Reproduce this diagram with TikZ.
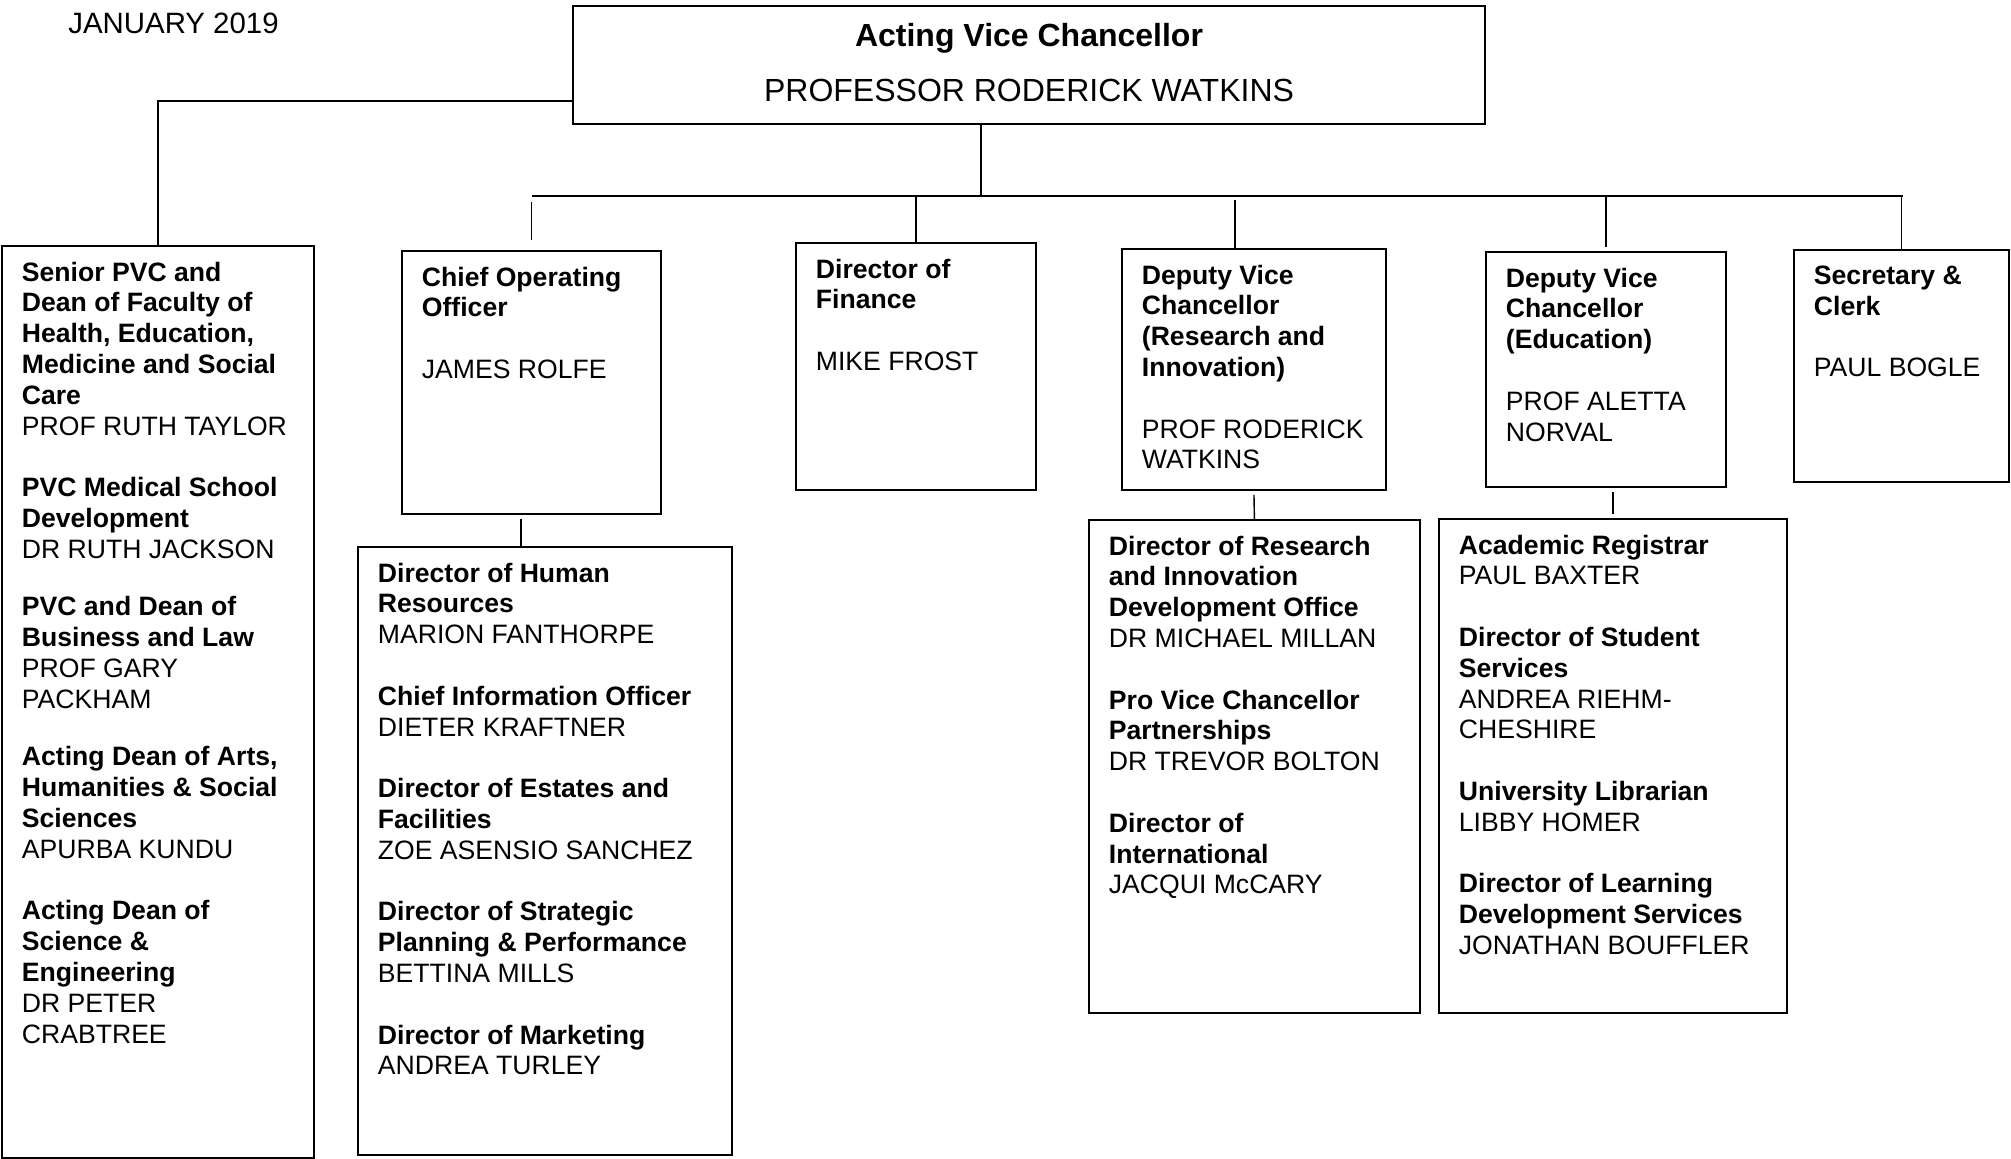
\documentclass[tikz,border=0pt]{standalone}
\usepackage{fontspec}
\setmainfont{Liberation Sans}
\newcommand\orgtext[3]{\parbox[c][\dimexpr#2pt/2-16pt\relax][t]{\dimexpr#1pt/2\relax}{\raggedright\leftskip=10pt #3}}
\newcommand\gap{\\[\baselineskip]}
\newcommand\smallgap{\\[13.4pt]}
\tikzset{
  orgbox/.style={draw, line width=0.9pt, anchor=north west, inner xsep=0pt, inner ysep=8pt,
    font=\fontsize{13.3}{15.4}\selectfont},
  headbox/.style={draw, line width=0.9pt, minimum width=456pt, minimum height=59pt, inner sep=0pt,
    align=center, text depth=2.8pt, font=\fontsize{16}{27.5}\selectfont},
  link/.style={line width=0.7pt}
}
\begin{document}
\begin{tikzpicture}[x=0.5pt, y=-0.5pt]
  \useasboundingbox (0,0) rectangle (2011,1158);
  \node[anchor=west, inner sep=0pt, font=\fontsize{14.7}{17}\selectfont] (date) at (68,23) {JANUARY 2019};
  \node[headbox] (avc) at (1029,65) {\textbf{Acting Vice Chancellor}\\PROFESSOR RODERICK WATKINS};

  \node[orgbox] (senior) at (1,245) {\orgtext{312}{912}{%
    \textbf{Senior PVC and\\Dean of Faculty of\\Health, Education,\\Medicine and Social\\Care}\\PROF RUTH TAYLOR\gap
    \textbf{PVC Medical School\\Development}\\DR RUTH JACKSON\smallgap
    \textbf{PVC and Dean of\\Business and Law}\\PROF GARY\\PACKHAM\smallgap
    \textbf{Acting Dean of Arts,\\Humanities \& Social\\Sciences}\\APURBA KUNDU\gap
    \textbf{Acting Dean of\\Science \&\\Engineering}\\DR PETER\\CRABTREE}};
  \node[orgbox] (coo) at (401,250) {\orgtext{259}{263}{%
    \textbf{Chief Operating\\Officer}\gap JAMES ROLFE}};
  \node[orgbox] (hr) at (357,546) {\orgtext{374}{608}{%
    \textbf{Director of Human\\Resources}\\MARION FANTHORPE\gap
    \textbf{Chief Information Officer}\\DIETER KRAFTNER\gap
    \textbf{Director of Estates and\\Facilities}\\ZOE ASENSIO SANCHEZ\gap
    \textbf{Director of Strategic\\Planning \& Performance}\\BETTINA MILLS\gap
    \textbf{Director of Marketing}\\ANDREA TURLEY}};
  \node[orgbox] (finance) at (795,242) {\orgtext{240}{247}{%
    \textbf{Director of\\Finance}\gap MIKE FROST}};
  \node[orgbox] (dvcri) at (1121,248) {\orgtext{264}{241}{%
    \textbf{Deputy Vice\\Chancellor\\(Research and\\Innovation)}\gap PROF RODERICK\\WATKINS}};
  \node[orgbox] (risub) at (1088,519) {\orgtext{331}{493}{%
    \textbf{Director of Research\\and Innovation\\Development Office}\\DR MICHAEL MILLAN\gap
    \textbf{Pro Vice Chancellor\\Partnerships}\\DR TREVOR BOLTON\gap
    \textbf{Director of\\International}\\JACQUI McCARY}};
  \node[orgbox] (dvced) at (1485,251) {\orgtext{240}{235}{%
    \textbf{Deputy Vice\\Chancellor\\(Education)}\gap PROF ALETTA\\NORVAL}};
  \node[orgbox] (edsub) at (1438,518) {\orgtext{348}{494}{%
    \textbf{Academic Registrar}\\PAUL BAXTER\gap
    \textbf{Director of Student\\Services}\\ANDREA RIEHM-\\CHESHIRE\gap
    \textbf{University Librarian}\\LIBBY HOMER\gap
    \textbf{Director of Learning\\Development Services}\\JONATHAN BOUFFLER}};
  \node[orgbox] (secretary) at (1793,249) {\orgtext{215}{232}{%
    \textbf{Secretary \&\\Clerk}\gap PAUL BOGLE}};

  \coordinate (leftturn) at (156,101);
  \coordinate (busmid) at (981,196);
  \coordinate (busleft) at (532,196);
  \coordinate (busright) at (1903,196);
  \coordinate (ridrop) at (1235,196);
  \coordinate (hrdrop) at (521,519);

  \draw[link] (avc.west |- leftturn) -| (senior.north);
  \draw[link] (avc.south -| busmid) -- (busmid);
  \draw[link] (busleft) -- (busright);
  \draw[link, shorten <=3pt, shorten >=5pt] (coo.north |- busmid) -- (coo.north);
  \draw[link] (finance.north |- busmid) -- (finance.north);
  \draw[link, shorten <=2pt] (ridrop) -- (ridrop |- dvcri.north);
  \draw[link, shorten >=2pt] (dvced.north |- busmid) -- (dvced.north);
  \draw[link] (secretary.north |- busmid) -- (secretary.north);
  \draw[link] (hrdrop) -- (hrdrop |- hr.north);
  \draw[link, shorten <=2pt] (dvcri.south) -- (risub.north);
  \draw[link, shorten <=2pt, shorten >=2pt] (edsub.north |- dvced.south) -- (edsub.north);
\end{tikzpicture}
\end{document}
